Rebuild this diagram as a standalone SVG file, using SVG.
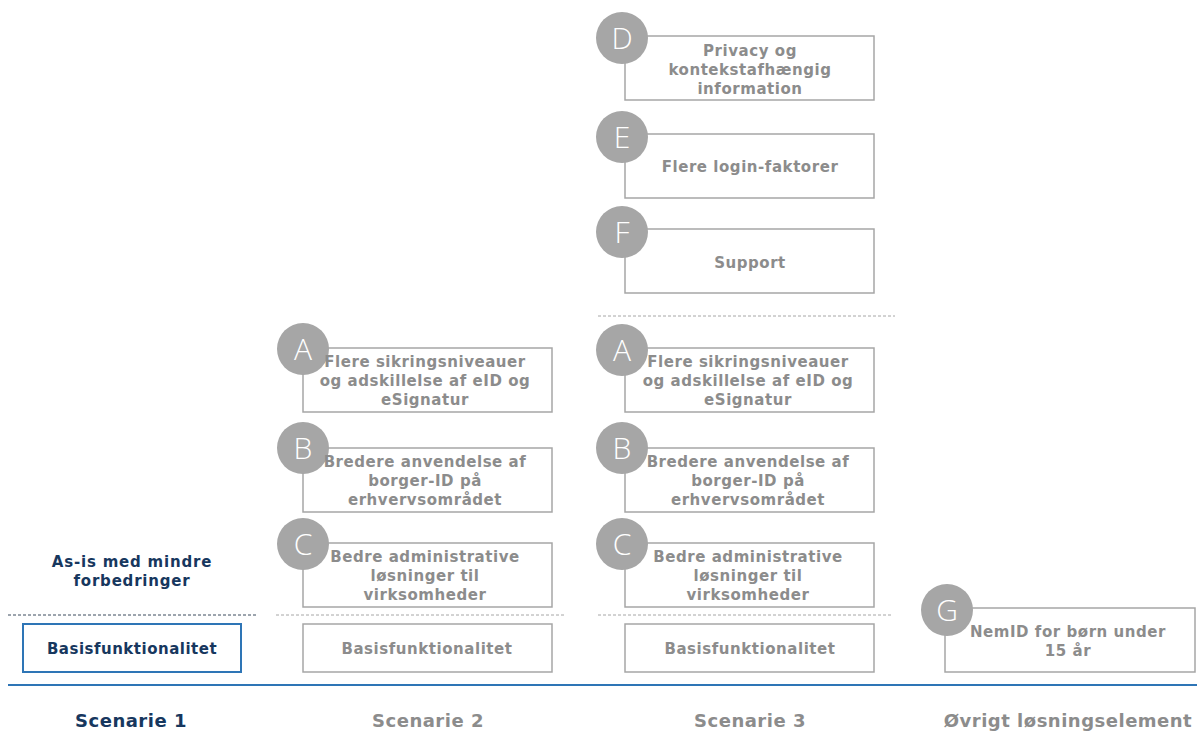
<svg xmlns="http://www.w3.org/2000/svg" width="1197" height="731" viewBox="0 0 1197 731">
<style>
.box{fill:#fff;stroke:#a6a6a6;stroke-width:1.5}
.t{font-family:"DejaVu Sans",Verdana,sans-serif;font-weight:bold;font-size:15px;letter-spacing:0.55px;fill:#8c8c8c;text-anchor:middle}
.c{fill:#a6a6a6}
.l{font-family:"Open Sans","Liberation Sans",sans-serif;font-weight:300;font-size:30px;fill:#fff;text-anchor:middle}
.dash{stroke:#a6a6a6;stroke-width:1;stroke-dasharray:3,2;fill:none}
.lab{font-family:"DejaVu Sans",Verdana,sans-serif;font-weight:bold;font-size:18px;letter-spacing:0.5px;fill:#8c8c8c;text-anchor:middle}
.navy{fill:#17375e}
</style>
<rect width="1197" height="731" fill="#fff"/>
<g id="connectors">
<line x1="8" y1="615" x2="258" y2="615" stroke="#3a4a5c" stroke-width="1" stroke-dasharray="3,2"/>
<line class="dash" x1="276" y1="615" x2="566" y2="615"/>
<line class="dash" x1="598" y1="615" x2="893" y2="615"/>
<line class="dash" x1="598" y1="316" x2="895" y2="316"/>
<line x1="8" y1="685" x2="1197" y2="685" stroke="#2e75b6" stroke-width="2"/>
</g>
<g id="s1-label-asis">
<text class="t navy" style="letter-spacing:0.8px" x="132" y="567">As-is med mindre</text>
<text class="t navy" style="letter-spacing:0.8px" x="132" y="586">forbedringer</text>
</g>
<g id="s1-basis">
<rect x="23" y="624" width="218" height="48" fill="#fff" stroke="#2e75b6" stroke-width="2"/>
<text class="t navy" style="letter-spacing:0.5px" x="132" y="654">Basisfunktionalitet</text>
</g>
<g id="s2-A">
<rect class="box" x="303" y="348" width="249" height="64"/>
<circle class="c" cx="303" cy="349" r="26"/>
<text class="l" x="303" y="360">A</text>
<text class="t" x="425" y="367">Flere sikringsniveauer</text>
<text class="t" x="425" y="386">og adskillelse af eID og</text>
<text class="t" x="425" y="405">eSignatur</text>
</g>
<g id="s2-B">
<rect class="box" x="303" y="448" width="249" height="64"/>
<circle class="c" cx="303" cy="448" r="26"/>
<text class="l" x="303" y="459">B</text>
<text class="t" x="425" y="467">Bredere anvendelse af</text>
<text class="t" x="425" y="486">borger-ID på</text>
<text class="t" x="425" y="505">erhvervsområdet</text>
</g>
<g id="s2-C">
<rect class="box" x="303" y="543" width="249" height="64"/>
<circle class="c" cx="303" cy="544" r="26"/>
<text class="l" x="303" y="555">C</text>
<text class="t" x="425" y="562">Bedre administrative</text>
<text class="t" x="425" y="581">løsninger til</text>
<text class="t" x="425" y="600">virksomheder</text>
</g>
<g id="s2-basis">
<rect class="box" x="303" y="624" width="249" height="48"/>
<text class="t" x="427" y="654">Basisfunktionalitet</text>
</g>
<g id="s3-D">
<rect class="box" x="625" y="36" width="249" height="64"/>
<circle class="c" cx="622" cy="38" r="26"/>
<text class="l" x="622" y="49">D</text>
<text class="t" x="750" y="56">Privacy og</text>
<text class="t" x="750" y="75">kontekstafhængig</text>
<text class="t" x="750" y="94">information</text>
</g>
<g id="s3-E">
<rect class="box" x="625" y="134" width="249" height="64"/>
<circle class="c" cx="622" cy="137" r="26"/>
<text class="l" x="622" y="148">E</text>
<text class="t" x="750" y="172">Flere login-faktorer</text>
</g>
<g id="s3-F">
<rect class="box" x="625" y="229" width="249" height="64"/>
<circle class="c" cx="622" cy="232" r="26"/>
<text class="l" x="622" y="243">F</text>
<text class="t" x="750" y="268">Support</text>
</g>
<g id="s3-A">
<rect class="box" x="625" y="348" width="249" height="64"/>
<circle class="c" cx="622" cy="350" r="26"/>
<text class="l" x="622" y="361">A</text>
<text class="t" x="748" y="367">Flere sikringsniveauer</text>
<text class="t" x="748" y="386">og adskillelse af eID og</text>
<text class="t" x="748" y="405">eSignatur</text>
</g>
<g id="s3-B">
<rect class="box" x="625" y="448" width="249" height="64"/>
<circle class="c" cx="622" cy="448" r="26"/>
<text class="l" x="622" y="459">B</text>
<text class="t" x="748" y="467">Bredere anvendelse af</text>
<text class="t" x="748" y="486">borger-ID på</text>
<text class="t" x="748" y="505">erhvervsområdet</text>
</g>
<g id="s3-C">
<rect class="box" x="625" y="543" width="249" height="64"/>
<circle class="c" cx="622" cy="544" r="26"/>
<text class="l" x="622" y="555">C</text>
<text class="t" x="748" y="562">Bedre administrative</text>
<text class="t" x="748" y="581">løsninger til</text>
<text class="t" x="748" y="600">virksomheder</text>
</g>
<g id="s3-basis">
<rect class="box" x="625" y="624" width="249" height="48"/>
<text class="t" x="750" y="654">Basisfunktionalitet</text>
</g>
<g id="other-G">
<rect class="box" x="945" y="608" width="250" height="64"/>
<circle class="c" cx="947" cy="610" r="26"/>
<text class="l" x="947" y="621">G</text>
<text class="t" x="1068" y="637">NemID for børn under</text>
<text class="t" x="1068" y="656">15 år</text>
</g>
<g id="labels">
<text class="lab navy" x="131" y="727">Scenarie 1</text>
<text class="lab" x="428" y="727">Scenarie 2</text>
<text class="lab" x="750" y="727">Scenarie 3</text>
<text class="lab" x="1068" y="727">Øvrigt løsningselement</text>
</g>
</svg>
